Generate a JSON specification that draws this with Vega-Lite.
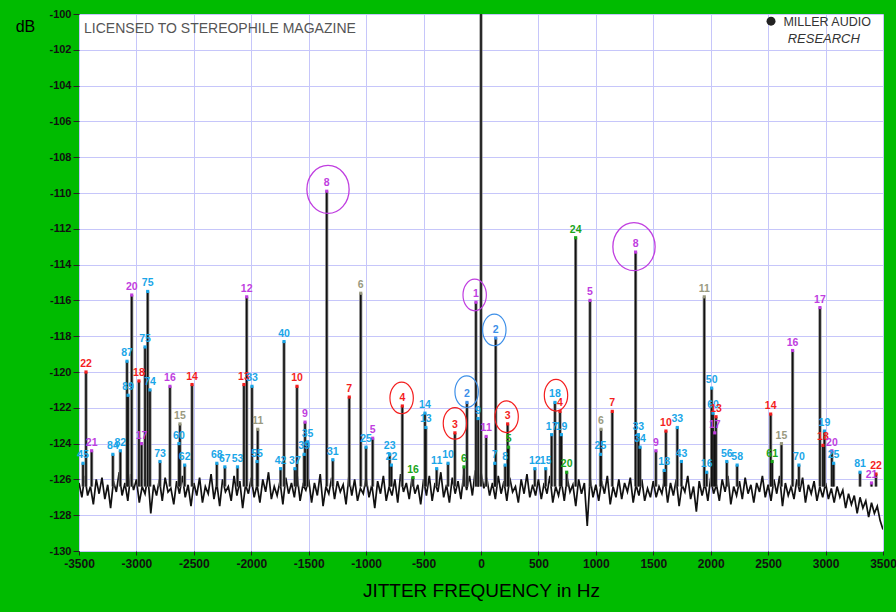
{
  "$schema": "https://vega.github.io/schema/vega-lite/v6.json",
  "width": 804,
  "height": 537,
  "autosize": {"type": "none"},
  "padding": {"left": 79, "top": 14, "right": 13, "bottom": 61},
  "background": "#00bb00",
  "config": {"view": {"fill": "white", "stroke": "#444", "strokeWidth": 1}, "font": "Liberation Sans"},
  "datasets": {
    "noise": [
      {"f":-3500,"db":-126.2},{"f":-3475,"db":-127.0},{"f":-3450,"db":-125.8},{"f":-3425,"db":-126.9},{"f":-3400,"db":-126.4},{"f":-3375,"db":-127.4},{"f":-3350,"db":-126.0},{"f":-3325,"db":-126.8},{"f":-3300,"db":-125.9},{"f":-3275,"db":-127.1},{"f":-3250,"db":-126.3},{"f":-3225,"db":-127.6},{"f":-3200,"db":-126.1},{"f":-3175,"db":-126.7},{"f":-3150,"db":-125.6},{"f":-3125,"db":-126.9},{"f":-3100,"db":-126.2},{"f":-3075,"db":-127.2},{"f":-3050,"db":-125.7},{"f":-3025,"db":-126.6},
      {"f":-3000,"db":-126.0},{"f":-2975,"db":-127.3},{"f":-2950,"db":-126.4},{"f":-2925,"db":-126.8},{"f":-2900,"db":-125.8},{"f":-2875,"db":-127.9},{"f":-2850,"db":-126.3},{"f":-2825,"db":-126.9},{"f":-2800,"db":-126.0},{"f":-2775,"db":-127.2},{"f":-2750,"db":-125.9},{"f":-2725,"db":-126.7},{"f":-2700,"db":-126.5},{"f":-2675,"db":-127.4},{"f":-2650,"db":-126.1},{"f":-2625,"db":-126.8},{"f":-2600,"db":-125.8},{"f":-2575,"db":-127.0},{"f":-2550,"db":-126.3},{"f":-2525,"db":-127.5},
      {"f":-2500,"db":-126.2},{"f":-2475,"db":-126.9},{"f":-2450,"db":-125.9},{"f":-2425,"db":-127.3},{"f":-2400,"db":-126.4},{"f":-2375,"db":-126.8},{"f":-2350,"db":-125.7},{"f":-2325,"db":-127.1},{"f":-2300,"db":-126.2},{"f":-2275,"db":-127.5},{"f":-2250,"db":-126.0},{"f":-2225,"db":-126.7},{"f":-2200,"db":-126.4},{"f":-2175,"db":-127.2},{"f":-2150,"db":-125.8},{"f":-2125,"db":-126.9},{"f":-2100,"db":-126.1},{"f":-2075,"db":-127.6},{"f":-2050,"db":-126.3},{"f":-2025,"db":-126.8},
      {"f":-2000,"db":-125.9},{"f":-1975,"db":-127.0},{"f":-1950,"db":-126.3},{"f":-1925,"db":-127.3},{"f":-1900,"db":-126.0},{"f":-1875,"db":-126.7},{"f":-1850,"db":-125.6},{"f":-1825,"db":-127.1},{"f":-1800,"db":-126.4},{"f":-1775,"db":-126.9},{"f":-1750,"db":-126.1},{"f":-1725,"db":-127.4},{"f":-1700,"db":-125.9},{"f":-1675,"db":-126.8},{"f":-1650,"db":-126.2},{"f":-1625,"db":-127.0},{"f":-1600,"db":-125.8},{"f":-1575,"db":-127.2},{"f":-1550,"db":-126.3},{"f":-1525,"db":-126.6},
      {"f":-1500,"db":-126.0},{"f":-1475,"db":-127.3},{"f":-1450,"db":-126.2},{"f":-1425,"db":-126.9},{"f":-1400,"db":-125.7},{"f":-1375,"db":-127.5},{"f":-1350,"db":-126.4},{"f":-1325,"db":-126.8},{"f":-1300,"db":-125.9},{"f":-1275,"db":-127.1},{"f":-1250,"db":-126.1},{"f":-1225,"db":-126.7},{"f":-1200,"db":-126.3},{"f":-1175,"db":-127.4},{"f":-1150,"db":-125.8},{"f":-1125,"db":-126.9},{"f":-1100,"db":-126.0},{"f":-1075,"db":-127.2},{"f":-1050,"db":-126.5},{"f":-1025,"db":-126.8},
      {"f":-1000,"db":-125.9},{"f":-975,"db":-127.0},{"f":-950,"db":-126.3},{"f":-925,"db":-127.6},{"f":-900,"db":-126.1},{"f":-875,"db":-126.8},{"f":-850,"db":-125.8},{"f":-825,"db":-127.2},{"f":-800,"db":-126.4},{"f":-775,"db":-126.9},{"f":-750,"db":-126.0},{"f":-725,"db":-127.3},{"f":-700,"db":-125.7},{"f":-675,"db":-126.7},{"f":-650,"db":-126.2},{"f":-625,"db":-127.1},{"f":-600,"db":-125.9},{"f":-575,"db":-126.8},{"f":-550,"db":-126.3},{"f":-525,"db":-127.4},
      {"f":-500,"db":-126.0},{"f":-475,"db":-126.9},{"f":-450,"db":-125.8},{"f":-425,"db":-127.2},{"f":-400,"db":-126.2},{"f":-375,"db":-126.7},{"f":-350,"db":-125.6},{"f":-325,"db":-127.0},{"f":-300,"db":-126.3},{"f":-275,"db":-127.3},{"f":-250,"db":-125.9},{"f":-225,"db":-126.8},{"f":-200,"db":-126.1},{"f":-175,"db":-127.1},{"f":-150,"db":-125.7},{"f":-125,"db":-126.6},{"f":-100,"db":-125.8},{"f":-75,"db":-126.9},{"f":-50,"db":-125.5},{"f":-25,"db":-126.4},
      {"f":0,"db":-125.6},{"f":25,"db":-126.5},{"f":50,"db":-125.9},{"f":75,"db":-126.9},{"f":100,"db":-126.2},{"f":125,"db":-127.1},{"f":150,"db":-125.8},{"f":175,"db":-126.8},{"f":200,"db":-126.1},{"f":225,"db":-127.2},{"f":250,"db":-125.9},{"f":275,"db":-126.7},{"f":300,"db":-126.4},{"f":325,"db":-127.3},{"f":350,"db":-126.0},{"f":375,"db":-126.8},{"f":400,"db":-125.7},{"f":425,"db":-127.0},{"f":450,"db":-126.3},{"f":475,"db":-126.9},
      {"f":500,"db":-126.0},{"f":525,"db":-127.1},{"f":550,"db":-126.2},{"f":575,"db":-126.8},{"f":600,"db":-125.8},{"f":625,"db":-127.3},{"f":650,"db":-126.4},{"f":675,"db":-126.9},{"f":700,"db":-126.1},{"f":725,"db":-127.2},{"f":750,"db":-125.9},{"f":775,"db":-126.7},{"f":800,"db":-126.3},{"f":825,"db":-127.5},{"f":850,"db":-126.0},{"f":875,"db":-126.8},{"f":900,"db":-126.2},{"f":925,"db":-128.6},{"f":950,"db":-125.9},{"f":975,"db":-127.0},
      {"f":1000,"db":-126.3},{"f":1025,"db":-127.2},{"f":1050,"db":-126.1},{"f":1075,"db":-126.8},{"f":1100,"db":-125.8},{"f":1125,"db":-127.4},{"f":1150,"db":-126.4},{"f":1175,"db":-127.0},{"f":1200,"db":-126.0},{"f":1225,"db":-127.1},{"f":1250,"db":-126.2},{"f":1275,"db":-126.7},{"f":1300,"db":-125.9},{"f":1325,"db":-127.3},{"f":1350,"db":-126.3},{"f":1375,"db":-126.9},{"f":1400,"db":-126.0},{"f":1425,"db":-127.2},{"f":1450,"db":-126.5},{"f":1475,"db":-127.0},
      {"f":1500,"db":-126.1},{"f":1525,"db":-127.0},{"f":1550,"db":-126.4},{"f":1575,"db":-126.8},{"f":1600,"db":-125.9},{"f":1625,"db":-127.3},{"f":1650,"db":-126.2},{"f":1675,"db":-126.9},{"f":1700,"db":-126.0},{"f":1725,"db":-127.5},{"f":1750,"db":-126.3},{"f":1775,"db":-126.7},{"f":1800,"db":-125.8},{"f":1825,"db":-127.1},{"f":1850,"db":-126.4},{"f":1875,"db":-127.8},{"f":1900,"db":-126.1},{"f":1925,"db":-126.9},{"f":1950,"db":-126.2},{"f":1975,"db":-127.2},
      {"f":2000,"db":-125.9},{"f":2025,"db":-126.8},{"f":2050,"db":-126.3},{"f":2075,"db":-127.2},{"f":2100,"db":-126.0},{"f":2125,"db":-126.7},{"f":2150,"db":-125.8},{"f":2175,"db":-127.4},{"f":2200,"db":-126.4},{"f":2225,"db":-126.9},{"f":2250,"db":-126.1},{"f":2275,"db":-127.1},{"f":2300,"db":-125.9},{"f":2325,"db":-126.8},{"f":2350,"db":-126.3},{"f":2375,"db":-127.3},{"f":2400,"db":-126.2},{"f":2425,"db":-126.7},{"f":2450,"db":-125.8},{"f":2475,"db":-127.0},
      {"f":2500,"db":-126.3},{"f":2525,"db":-127.2},{"f":2550,"db":-126.0},{"f":2575,"db":-126.8},{"f":2600,"db":-125.8},{"f":2625,"db":-127.5},{"f":2650,"db":-126.2},{"f":2675,"db":-126.9},{"f":2700,"db":-126.4},{"f":2725,"db":-127.1},{"f":2750,"db":-126.0},{"f":2775,"db":-126.7},{"f":2800,"db":-125.9},{"f":2825,"db":-127.3},{"f":2850,"db":-126.3},{"f":2875,"db":-126.8},{"f":2900,"db":-126.1},{"f":2925,"db":-127.2},{"f":2950,"db":-126.4},{"f":2975,"db":-127.0},
      {"f":3000,"db":-126.2},{"f":3025,"db":-127.1},{"f":3050,"db":-126.5},{"f":3075,"db":-127.3},{"f":3100,"db":-126.4},{"f":3125,"db":-127.0},{"f":3150,"db":-126.6},{"f":3175,"db":-127.6},{"f":3200,"db":-126.8},{"f":3225,"db":-127.4},{"f":3250,"db":-126.9},{"f":3275,"db":-127.9},{"f":3300,"db":-127.0},{"f":3325,"db":-127.6},{"f":3350,"db":-127.2},{"f":3375,"db":-128.1},{"f":3400,"db":-127.3},{"f":3425,"db":-127.9},{"f":3450,"db":-127.5},{"f":3475,"db":-128.3},
      {"f":3500,"db":-128.8}
    ],
    "spikes": [
      {"f":-3439,"db":-120.0,"label":"22","kind":"red"},
      {"f":-3390,"db":-124.4,"label":"21","kind":"purple"},
      {"f":-3465,"db":-125.1,"label":"45","kind":"cyan"},
      {"f":-3205,"db":-124.6,"label":"84","kind":"cyan"},
      {"f":-3140,"db":-124.4,"label":"82","kind":"cyan"},
      {"f":-3082,"db":-119.4,"label":"87","kind":"cyan"},
      {"f":-3041,"db":-115.7,"label":"20","kind":"purple"},
      {"f":-3073,"db":-121.3,"label":"89","kind":"cyan"},
      {"f":-2978,"db":-120.5,"label":"18","kind":"red"},
      {"f":-2955,"db":-124.0,"label":"17","kind":"purple"},
      {"f":-2925,"db":-118.6,"label":"75","kind":"cyan"},
      {"f":-2902,"db":-115.5,"label":"75","kind":"cyan"},
      {"f":-2882,"db":-121.0,"label":"74","kind":"cyan"},
      {"f":-2795,"db":-125.0,"label":"73","kind":"cyan"},
      {"f":-2708,"db":-120.8,"label":"16","kind":"purple"},
      {"f":-2630,"db":-124.0,"label":"60","kind":"cyan"},
      {"f":-2621,"db":-122.9,"label":"15","kind":"gray"},
      {"f":-2580,"db":-125.2,"label":"62","kind":"cyan"},
      {"f":-2516,"db":-120.7,"label":"14","kind":"red"},
      {"f":-2300,"db":-125.1,"label":"68","kind":"cyan"},
      {"f":-2230,"db":-125.3,"label":"67","kind":"cyan"},
      {"f":-2120,"db":-125.3,"label":"53","kind":"cyan"},
      {"f":-2064,"db":-120.7,"label":"13","kind":"red"},
      {"f":-2040,"db":-115.8,"label":"12","kind":"purple"},
      {"f":-1994,"db":-120.8,"label":"33","kind":"cyan"},
      {"f":-1944,"db":-123.2,"label":"11","kind":"gray"},
      {"f":-1950,"db":-125.0,"label":"55","kind":"cyan"},
      {"f":-1745,"db":-125.4,"label":"42","kind":"cyan"},
      {"f":-1715,"db":-118.3,"label":"40","kind":"cyan"},
      {"f":-1620,"db":-125.4,"label":"37","kind":"cyan"},
      {"f":-1602,"db":-120.8,"label":"10","kind":"red"},
      {"f":-1540,"db":-124.6,"label":"39","kind":"cyan"},
      {"f":-1532,"db":-122.8,"label":"9","kind":"purple"},
      {"f":-1510,"db":-123.9,"label":"35","kind":"cyan"},
      {"f":-1343,"db":-109.9,"label":"8","kind":"purple"},
      {"f":-1290,"db":-124.9,"label":"31","kind":"cyan"},
      {"f":-1147,"db":-121.4,"label":"7","kind":"red"},
      {"f":-1047,"db":-115.6,"label":"6","kind":"gray"},
      {"f":-1001,"db":-124.2,"label":"25","kind":"cyan"},
      {"f":-943,"db":-123.7,"label":"5","kind":"purple"},
      {"f":-795,"db":-124.6,"label":"23","kind":"cyan"},
      {"f":-780,"db":-125.2,"label":"22","kind":"cyan"},
      {"f":-685,"db":-121.9,"label":"4","kind":"red"},
      {"f":-592,"db":-125.9,"label":"16","kind":"green"},
      {"f":-488,"db":-122.3,"label":"14","kind":"cyan"},
      {"f":-480,"db":-123.1,"label":"13","kind":"cyan"},
      {"f":-386,"db":-125.4,"label":"11","kind":"cyan"},
      {"f":-287,"db":-125.1,"label":"10","kind":"cyan"},
      {"f":-227,"db":-123.4,"label":"3","kind":"red"},
      {"f":-148,"db":-125.3,"label":"6","kind":"green"},
      {"f":-122,"db":-121.7,"label":"2","kind":"blue"},
      {"f":-44,"db":-116.1,"label":"1","kind":"purple"},
      {"f":-25,"db":-122.6,"label":"9","kind":"cyan"},
      {"f":0,"db":-100,"label":"","kind":"black"},
      {"f":45,"db":-123.6,"label":"11","kind":"purple"},
      {"f":120,"db":-125.1,"label":"7","kind":"cyan"},
      {"f":128,"db":-118.1,"label":"2","kind":"blue"},
      {"f":210,"db":-125.2,"label":"8","kind":"cyan"},
      {"f":232,"db":-122.9,"label":"3","kind":"red"},
      {"f":240,"db":-124.2,"label":"5","kind":"green"},
      {"f":469,"db":-125.4,"label":"12","kind":"cyan"},
      {"f":563,"db":-125.4,"label":"15","kind":"cyan"},
      {"f":615,"db":-123.5,"label":"17","kind":"cyan"},
      {"f":644,"db":-121.7,"label":"18","kind":"cyan"},
      {"f":688,"db":-122.2,"label":"4","kind":"red"},
      {"f":700,"db":-123.5,"label":"19","kind":"cyan"},
      {"f":746,"db":-125.6,"label":"20","kind":"green"},
      {"f":824,"db":-112.5,"label":"24","kind":"green"},
      {"f":949,"db":-116.0,"label":"5","kind":"purple"},
      {"f":1040,"db":-124.6,"label":"25","kind":"cyan"},
      {"f":1045,"db":-123.2,"label":"6","kind":"gray"},
      {"f":1143,"db":-122.2,"label":"7","kind":"red"},
      {"f":1346,"db":-113.3,"label":"8","kind":"purple"},
      {"f":1370,"db":-123.5,"label":"33","kind":"cyan"},
      {"f":1385,"db":-124.2,"label":"34","kind":"cyan"},
      {"f":1523,"db":-124.4,"label":"9","kind":"purple"},
      {"f":1595,"db":-125.5,"label":"18","kind":"cyan"},
      {"f":1610,"db":-123.3,"label":"10","kind":"red"},
      {"f":1709,"db":-123.1,"label":"33","kind":"cyan"},
      {"f":1745,"db":-125.0,"label":"43","kind":"cyan"},
      {"f":1944,"db":-115.8,"label":"11","kind":"gray"},
      {"f":1965,"db":-125.6,"label":"16","kind":"cyan"},
      {"f":2008,"db":-120.9,"label":"50","kind":"cyan"},
      {"f":2020,"db":-122.3,"label":"60","kind":"cyan"},
      {"f":2035,"db":-123.4,"label":"17","kind":"purple"},
      {"f":2046,"db":-122.5,"label":"13","kind":"red"},
      {"f":2140,"db":-125.0,"label":"56","kind":"cyan"},
      {"f":2230,"db":-125.2,"label":"58","kind":"cyan"},
      {"f":2522,"db":-122.35,"label":"14","kind":"red"},
      {"f":2535,"db":-125.0,"label":"61","kind":"green"},
      {"f":2616,"db":-124.0,"label":"15","kind":"gray"},
      {"f":2713,"db":-118.8,"label":"16","kind":"purple"},
      {"f":2768,"db":-125.2,"label":"70","kind":"cyan"},
      {"f":2951,"db":-116.4,"label":"17","kind":"purple"},
      {"f":2977,"db":-124.1,"label":"18","kind":"red"},
      {"f":2990,"db":-123.3,"label":"19","kind":"cyan"},
      {"f":3055,"db":-124.4,"label":"20","kind":"purple"},
      {"f":3070,"db":-125.1,"label":"25","kind":"cyan"},
      {"f":3300,"db":-125.6,"label":"81","kind":"cyan"},
      {"f":3439,"db":-125.7,"label":"22","kind":"red"},
      {"f":3400,"db":-126.2,"label":"21","kind":"purple"}
    ],
    "rings": [
      {"f":-1332,"db":-109.8,"kind":"purple","ring":"big"},
      {"f":1332,"db":-113.0,"kind":"purple","ring":"big"},
      {"f":-691,"db":-121.45,"kind":"red","ring":"small"},
      {"f":-227,"db":-122.87,"kind":"red","ring":"small"},
      {"f":-125,"db":-121.1,"kind":"blue","ring":"small"},
      {"f":-55,"db":-115.7,"kind":"purple","ring":"small"},
      {"f":116,"db":-117.65,"kind":"blue","ring":"small"},
      {"f":223,"db":-122.5,"kind":"red","ring":"small"},
      {"f":653,"db":-121.3,"kind":"red","ring":"small"}
    ],
    "notes": [
      {"f":-3456,"db":-100.84,"text":"LICENSED TO STEREOPHILE MAGAZINE","role":"lic"},
      {"f":3395,"db":-100.45,"text":"MILLER AUDIO","role":"brand"},
      {"f":3299,"db":-101.4,"text":"RESEARCH","role":"sub"},
      {"f":2525,"db":-100.4,"text":"","role":"logo"}
    ]
  },
  "layer": [
    {
      "data": {"name": "noise"},
      "mark": {"type": "line", "color": "#111111", "strokeWidth": 1.7, "clip": true},
      "encoding": {
        "x": {"field": "f", "type": "quantitative",
          "scale": {"domain": [-3500, 3500], "nice": false, "zero": false},
          "axis": {"values": [-3500,-3000,-2500,-2000,-1500,-1000,-500,0,500,1000,1500,2000,2500,3000,3500],
            "tickCount": 30,
            "labelExpr": "datum.value < 0 ? '-' + abs(datum.value) : '' + datum.value",
            "labelOverlap": false, "labelFlush": false,
            "title": "JITTER FREQUENCY in Hz", "grid": true, "gridColor": "#c6c6fa", "gridWidth": 1,
            "domain": false, "tickColor": "#222", "tickSize": 4, "labelPadding": 3,
            "labelFont": "Liberation Sans", "labelFontWeight": "bold", "labelFontSize": 12, "labelColor": "#111",
            "titleFont": "Liberation Sans", "titleFontSize": 19, "titleFontWeight": "normal", "titleColor": "#000", "titlePadding": 12}},
        "y": {"field": "db", "type": "quantitative",
          "scale": {"domain": [-130, -100], "nice": false, "zero": false},
          "axis": {"values": [-130,-128,-126,-124,-122,-120,-118,-116,-114,-112,-110,-108,-106,-104,-102,-100],
            "tickCount": 30,
            "labelExpr": "'-' + abs(datum.value)",
            "labelOverlap": false, "labelFlush": false,
            "title": "dB", "titleAngle": 0, "titleX": -54, "titleY": 12, "titleAlign": "center", "titleBaseline": "middle",
            "titleFont": "Liberation Sans", "titleFontSize": 16, "titleFontWeight": "normal", "titleColor": "#000",
            "grid": true, "gridColor": "#c6c6fa", "gridWidth": 1,
            "domain": false, "tickColor": "#222", "tickSize": 6, "labelPadding": 2,
            "labelFont": "Liberation Sans", "labelFontWeight": "bold", "labelFontSize": 11, "labelColor": "#111"}}
      }
    },
    {
      "data": {"name": "spikes"},
      "mark": {"type": "rule", "color": "#8a8a8a", "strokeWidth": 3.2, "clip": true},
      "encoding": {"x": {"field": "f", "type": "quantitative"}, "y": {"field": "db", "type": "quantitative"}, "y2": {"datum": -126.4}}
    },
    {
      "data": {"name": "spikes"},
      "mark": {"type": "rule", "color": "#111111", "strokeWidth": 1.6, "clip": true},
      "encoding": {"x": {"field": "f", "type": "quantitative"}, "y": {"field": "db", "type": "quantitative"}, "y2": {"datum": -126.4}}
    },
    {
      "data": {"name": "spikes"},
      "transform": [{"filter": "datum.label != ''"}],
      "mark": {"type": "square", "filled": true, "size": 10, "opacity": 1},
      "encoding": {
        "x": {"field": "f", "type": "quantitative"}, "y": {"field": "db", "type": "quantitative"},
        "color": {"field": "kind", "type": "nominal", "legend": null,
          "scale": {"domain": ["red","purple","cyan","blue","gray","green","black"], "range": ["#f41e1e","#c03ee0","#1aa6e8","#3d8fe8","#9a9a80","#1aa51a","#111111"]}}
      }
    },
    {
      "data": {"name": "spikes"},
      "transform": [{"filter": "datum.label != ''"}],
      "mark": {"type": "text", "dy": -5, "baseline": "alphabetic", "align": "center", "font": "Liberation Sans", "fontWeight": "bold", "fontSize": 10.5},
      "encoding": {
        "x": {"field": "f", "type": "quantitative"}, "y": {"field": "db", "type": "quantitative"},
        "text": {"field": "label"},
        "color": {"field": "kind", "type": "nominal", "legend": null,
          "scale": {"domain": ["red","purple","cyan","blue","gray","green","black"], "range": ["#f41e1e","#c03ee0","#1aa6e8","#3d8fe8","#9a9a80","#1aa51a","#111111"]}}
      }
    },
    {
      "data": {"name": "rings"},
      "transform": [{"filter": "datum.ring == 'big'"}],
      "mark": {"type": "point", "filled": false, "strokeWidth": 1.3, "opacity": 1, "size": 2304,
        "shape": "M-0.88,0A0.88,1 0 1 0 0.88,0A0.88,1 0 1 0 -0.88,0Z"},
      "encoding": {
        "x": {"field": "f", "type": "quantitative"}, "y": {"field": "db", "type": "quantitative"},
        "color": {"field": "kind", "type": "nominal", "legend": null,
          "scale": {"domain": ["red","purple","cyan","blue","gray","green","black"], "range": ["#f41e1e","#c03ee0","#1aa6e8","#3d8fe8","#9a9a80","#1aa51a","#111111"]}}
      }
    },
    {
      "data": {"name": "rings"},
      "transform": [{"filter": "datum.ring == 'small'"}],
      "mark": {"type": "point", "filled": false, "strokeWidth": 1.2, "opacity": 1, "size": 1000,
        "shape": "M-0.74,0A0.74,1 0 1 0 0.74,0A0.74,1 0 1 0 -0.74,0Z"},
      "encoding": {
        "x": {"field": "f", "type": "quantitative"}, "y": {"field": "db", "type": "quantitative"},
        "color": {"field": "kind", "type": "nominal", "legend": null,
          "scale": {"domain": ["red","purple","cyan","blue","gray","green","black"], "range": ["#f41e1e","#c03ee0","#1aa6e8","#3d8fe8","#9a9a80","#1aa51a","#111111"]}}
      }
    },
    {
      "data": {"name": "notes"},
      "transform": [{"filter": "datum.role == 'lic'"}],
      "mark": {"type": "text", "align": "left", "baseline": "middle", "font": "Liberation Sans", "fontSize": 14, "color": "#555555"},
      "encoding": {"x": {"field": "f", "type": "quantitative"}, "y": {"field": "db", "type": "quantitative"}, "text": {"field": "text"}}
    },
    {
      "data": {"name": "notes"},
      "transform": [{"filter": "datum.role == 'brand'"}],
      "mark": {"type": "text", "align": "right", "baseline": "middle", "font": "Liberation Sans", "fontSize": 12.5, "color": "#333333"},
      "encoding": {"x": {"field": "f", "type": "quantitative"}, "y": {"field": "db", "type": "quantitative"}, "text": {"field": "text"}}
    },
    {
      "data": {"name": "notes"},
      "transform": [{"filter": "datum.role == 'sub'"}],
      "mark": {"type": "text", "align": "right", "baseline": "middle", "font": "Liberation Sans", "fontSize": 13, "fontStyle": "italic", "color": "#333333"},
      "encoding": {"x": {"field": "f", "type": "quantitative"}, "y": {"field": "db", "type": "quantitative"}, "text": {"field": "text"}}
    },
    {
      "data": {"name": "notes"},
      "transform": [{"filter": "datum.role == 'logo'"}],
      "mark": {"type": "circle", "size": 80, "color": "#222222", "opacity": 1},
      "encoding": {"x": {"field": "f", "type": "quantitative"}, "y": {"field": "db", "type": "quantitative"}}
    }
  ]
}
